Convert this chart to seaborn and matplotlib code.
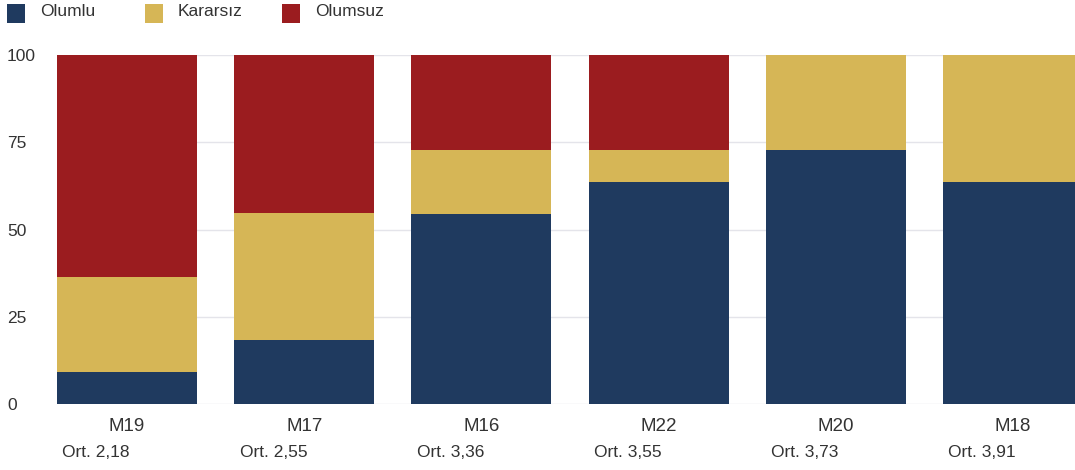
import matplotlib
matplotlib.use("Agg")
import matplotlib.pyplot as plt
from matplotlib.patches import Rectangle
import seaborn as sns
import numpy as np

categories = ["M19", "M17", "M16", "M22", "M20", "M18"]
olumlu = [9.1, 18.2, 54.5, 63.6, 72.7, 63.6]
kararsiz = [27.3, 36.4, 18.2, 9.1, 27.3, 36.4]
olumsuz = [63.6, 45.4, 27.3, 27.3, 0.0, 0.0]
ort_labels = ["Ort. 2,18", "Ort. 2,55", "Ort. 3,36", "Ort. 3,55", "Ort. 3,73", "Ort. 3,91"]
series_names = ["Olumlu", "Kararsız", "Olumsuz"]
colors = ["#1f3a5f", "#d6b656", "#9b1c1f"]
yticks = [0, 25, 50, 75, 100]

sns.set_theme(style="white")
plt.rcParams["font.family"] = ["Liberation Sans", "DejaVu Sans"]
text_color = "#333333"

fig = plt.figure(figsize=(10.75, 4.7), dpi=100)
ax = fig.add_axes([57 / 1075, 1 - 404 / 470, 1 - 57 / 1075, (404 - 55) / 470])

o = np.array(olumlu)
k = np.array(kararsiz)
n = np.array(olumsuz)
layers = [o + k + n, o + k, o]
layer_colors = [colors[2], colors[1], colors[0]]
bw = 0.79
for vals, c in zip(layers, layer_colors):
    sns.barplot(x=categories, y=vals, color=c, saturation=1, width=bw, ax=ax,
                linewidth=0, zorder=3)

ax.set_ylim(0, 100)
ax.set_xlim(-bw / 2, 5.35)
ax.set_yticks(yticks)
ax.set_yticklabels([str(t) for t in yticks], color=text_color, fontsize=12.5, ha="left")
ax.tick_params(axis="y", length=0, pad=36)
ax.tick_params(axis="x", length=0, pad=10, labelsize=13.5, labelcolor=text_color)
ax.grid(axis="y", color="#e4e4ea", linewidth=1, zorder=0)
ax.set_axisbelow(True)
for s in ax.spines.values():
    s.set_visible(False)

trans = matplotlib.transforms.blended_transform_factory(ax.transData, ax.transAxes)
for i, lab in enumerate(ort_labels):
    ax.text(i - bw / 2 + 0.03, -0.14, lab, transform=trans, ha="left", va="center",
            fontsize=12.5, color=text_color)

# legend
legend_x = [7, 145, 282]
for x0, name, c in zip(legend_x, series_names, colors):
    fig.add_artist(Rectangle((x0 / 1075, 1 - 23 / 470), 18 / 1075, 19 / 470,
                             transform=fig.transFigure, color=c, lw=0))
    fig.text((x0 + 33) / 1075, 1 - 12 / 470, name, ha="left", va="center",
             fontsize=12.5, color=text_color)

fig.savefig("out.png", dpi=100)
